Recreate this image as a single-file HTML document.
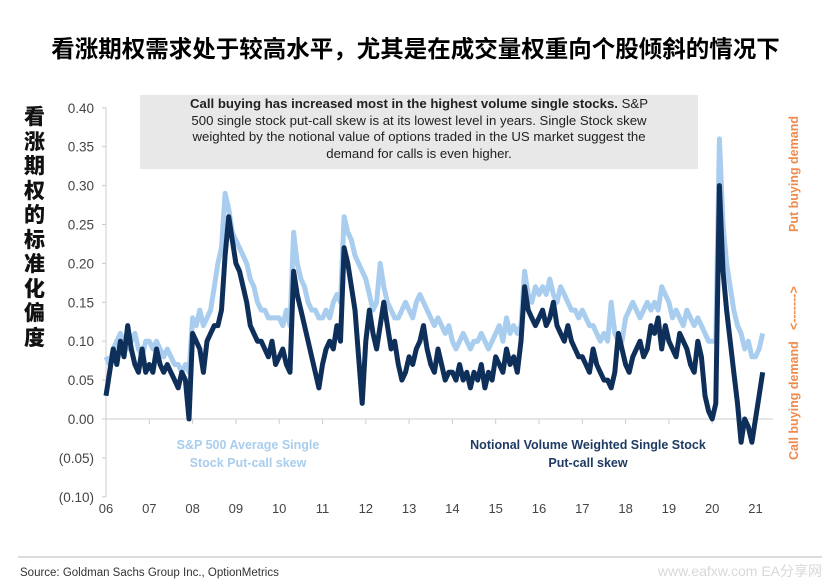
<!DOCTYPE html>
<html><head><meta charset="utf-8"><style>
body{margin:0;background:#fff;width:831px;height:583px;overflow:hidden;font-family:"Liberation Sans","Noto Sans CJK SC",sans-serif;position:relative}
.abs{position:absolute}
</style></head><body>
<div class="abs" style="left:0;width:831px;top:30px;text-align:center;font-size:23.5px;font-weight:bold;color:#000;font-family:'Liberation Sans','Noto Sans CJK SC',sans-serif">看涨期权需求处于较高水平，尤其是在成交量权重向个股倾斜的情况下</div>
<div class="abs" style="left:24px;top:104px;width:24px;font-size:21px;line-height:24.5px;font-weight:900;color:#111;font-family:'Noto Sans CJK SC',sans-serif">看涨期权的标准化偏度</div>
<div class="abs" style="left:140px;top:95px;width:558px;height:73px;background:#e8e8e8;font-size:13.2px;line-height:16.5px;text-align:center;color:#222;padding-top:1px"><b>Call buying has increased most in the highest volume single stocks.</b> S&amp;P<br>500 single stock put-call skew is at its lowest level in years. Single Stock skew<br>weighted by the notional value of options traded in the US market suggest the<br>demand for calls is even higher.</div>
<svg class="abs" style="left:0;top:0" width="831" height="583">
<g id="axes"></g><g id="series"></g>
<text x="248" y="449" font-size="12.5" font-weight="bold" fill="#a8cdee" text-anchor="middle">S&amp;P 500 Average Single</text>
<text x="248" y="467" font-size="12.5" font-weight="bold" fill="#a8cdee" text-anchor="middle">Stock Put-call skew</text>
<text x="588" y="449" font-size="12.5" font-weight="bold" fill="#1f3b63" text-anchor="middle">Notional Volume Weighted Single Stock</text>
<text x="588" y="467" font-size="12.5" font-weight="bold" fill="#1f3b63" text-anchor="middle">Put-call skew</text>
<g transform="translate(798,0) rotate(-90)" font-size="12.5" font-weight="bold" fill="#f08a4b">
<text x="-460" y="0">Call buying demand</text>
<text x="-330" y="0">&lt;-------&gt;</text>
<text x="-232" y="0">Put buying demand</text>
</g>
<line x1="18" y1="557" x2="822" y2="557" stroke="#bbb" stroke-width="1"/>
<text x="20" y="576" font-size="11.5" fill="#333">Source: Goldman Sachs Group Inc., OptionMetrics</text>
<text x="822" y="576" font-size="14" fill="#d8d8d8" text-anchor="end">www.eafxw.com  EA分享网</text>
</svg>
<script>
const yTicks=[0.40,0.35,0.30,0.25,0.20,0.15,0.10,0.05,0.00,-0.05,-0.10];
const yearLabels=["06","07","08","09","10","11","12","13","14","15","16","17","18","19","20","21"];
const startYear=2006;
const lightSeries=[
.08,.07,.09,.10,.11,.10,.09,.10,.11,.09,.08,.10,
.10,.09,.10,.09,.08,.09,.08,.07,.07,.06,.07,.06,
.13,.12,.14,.12,.13,.14,.17,.20,.22,.29,.27,.24,
.23,.22,.21,.20,.18,.17,.15,.14,.14,.13,.13,.13,
.13,.12,.14,.12,.24,.20,.18,.17,.15,.14,.14,.13,
.13,.14,.13,.15,.16,.15,.26,.24,.23,.21,.20,.19,
.18,.16,.14,.15,.20,.17,.15,.14,.13,.13,.14,.15,
.14,.13,.15,.16,.15,.14,.13,.12,.13,.12,.11,.12,
.10,.09,.10,.11,.10,.09,.10,.10,.11,.10,.09,.10,
.11,.12,.10,.13,.11,.12,.11,.12,.19,.16,.15,.17,
.16,.17,.16,.18,.16,.15,.17,.16,.15,.14,.14,.13,
.14,.13,.12,.12,.11,.10,.11,.10,.15,.11,.10,.10,
.13,.14,.15,.14,.13,.14,.15,.14,.15,.14,.17,.16,
.15,.13,.14,.13,.12,.14,.13,.12,.13,.12,.11,.10,
.10,.10,.36,.25,.20,.17,.14,.12,.11,.09,.10,.08,
.08,.09,.11];
const darkSeries=[
.03,.06,.09,.07,.10,.08,.12,.09,.07,.06,.09,.06,
.07,.06,.09,.07,.06,.07,.06,.05,.04,.06,.05,.00,
.11,.10,.09,.06,.10,.11,.12,.12,.14,.21,.26,.23,
.20,.19,.17,.15,.12,.11,.10,.10,.09,.08,.10,.07,
.08,.09,.07,.06,.19,.16,.14,.12,.10,.08,.06,.04,
.07,.09,.10,.09,.12,.10,.22,.20,.17,.14,.08,.02,
.10,.14,.11,.09,.12,.15,.12,.09,.10,.07,.05,.06,
.08,.07,.09,.10,.12,.09,.07,.06,.09,.07,.05,.06,
.06,.05,.07,.05,.06,.04,.06,.05,.07,.04,.06,.05,
.08,.07,.06,.09,.07,.08,.06,.10,.17,.14,.13,.12,
.13,.14,.12,.13,.15,.12,.11,.10,.12,.10,.09,.08,
.08,.07,.06,.09,.07,.06,.05,.05,.04,.06,.11,.09,
.07,.06,.08,.09,.10,.08,.09,.12,.11,.13,.09,.12,
.10,.09,.08,.11,.10,.09,.07,.06,.10,.08,.03,.01,
.00,.02,.30,.19,.14,.10,.06,.02,-.03,.00,-.01,-.03,
.00,.03,.06];
const X0=106,YEARW=43.3,Y0=419,PX=778;
function xs(t){return X0+(t-startYear)*YEARW}
function ys(v){return Y0-v*PX}
const NS="http://www.w3.org/2000/svg";
const ax=document.getElementById('axes');
function mk(tag,attrs,parent){const e=document.createElementNS(NS,tag);for(const k in attrs)e.setAttribute(k,attrs[k]);parent.appendChild(e);return e}
const yl=mk('line',{x1:X0,y1:ys(0.40),x2:X0,y2:ys(-0.10),stroke:'#ccc'},ax);


yTicks.forEach(v=>{
 const t=mk('text',{x:X0-12,y:ys(v)+5,'font-size':13.5,fill:'#444','text-anchor':'end'},ax);
 t.textContent=v<0?'('+Math.abs(v).toFixed(2)+')':v.toFixed(2);
 
 
 mk('line',{x1:X0-4,y1:ys(v),x2:X0,y2:ys(v),stroke:'#ccc'},ax);
});
const xl=mk('line',{x1:X0,y1:Y0,x2:xs(2021.4),y2:Y0,stroke:'#ccc'},ax);


yearLabels.forEach((l,i)=>{
 const t=mk('text',{x:xs(startYear+i),y:513,'font-size':13,fill:'#444','text-anchor':'middle'},ax);
 t.textContent=l;
 
 
 if(i>0)mk('line',{x1:xs(startYear+i),y1:Y0,x2:xs(startYear+i),y2:Y0+5,stroke:'#ccc'},ax);
});
const sg=document.getElementById('series');
function draw(arr,color,name){
 const pts=arr.map((v,i)=>xs(startYear+i/12).toFixed(1)+','+ys(v).toFixed(1)).join(' ');
 const p=mk('polyline',{points:pts,fill:'none',stroke:color,'stroke-width':5,'stroke-linejoin':'round'},sg);
 
 
}
draw(lightSeries,'#a8cdee','sp500-skew-line');
draw(darkSeries,'#0e2f5a','notional-skew-line');
</script>
</body></html>
